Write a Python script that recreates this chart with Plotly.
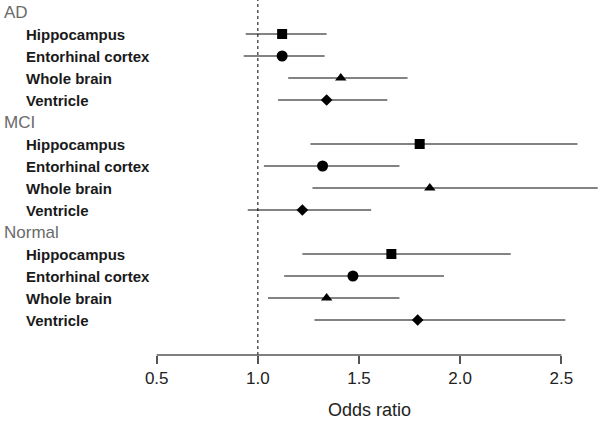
import plotly.graph_objects as go

# odds ratios with 95% CI
groups = ["AD", "MCI", "Normal"]
measures = ["Hippocampus", "Entorhinal cortex", "Whole brain", "Ventricle"]

ad_or = [1.12, 1.12, 1.41, 1.34]
ad_lo = [0.94, 0.93, 1.15, 1.10]
ad_hi = [1.34, 1.33, 1.74, 1.64]

mci_or = [1.80, 1.32, 1.85, 1.22]
mci_lo = [1.26, 1.03, 1.27, 0.95]
mci_hi = [2.58, 1.70, 2.68, 1.56]

normal_or = [1.66, 1.47, 1.34, 1.79]
normal_lo = [1.22, 1.13, 1.05, 1.28]
normal_hi = [2.25, 1.92, 1.70, 2.52]

tick_vals = [0.5, 1.0, 1.5, 2.0, 2.5]
tick_text = ["0.5", "1.0", "1.5", "2.0", "2.5"]

estimates = [ad_or, mci_or, normal_or]
lowers = [ad_lo, mci_lo, normal_lo]
uppers = [ad_hi, mci_hi, normal_hi]

symbols = ["square", "circle", "triangle-up", "diamond"]
sizes = [10, 11, 10, 9]

FONT = "Liberation Sans, Arial, sans-serif"

fig = go.Figure()

annotations = []
for g, name in enumerate(groups):
    base = g * 5
    annotations.append(dict(
        x=0.004, xref="paper", xanchor="left", y=base, yref="y",
        text=name, showarrow=False,
        font=dict(family=FONT, size=17, color="#6a6a6a")))
    for m, meas in enumerate(measures):
        row = base + 1 + m
        est = estimates[g][m]
        lo = lowers[g][m]
        hi = uppers[g][m]
        annotations.append(dict(
            x=0.04, xref="paper", xanchor="left", y=row, yref="y",
            text="<b>" + meas + "</b>", showarrow=False,
            font=dict(family=FONT, size=15, color="#1a1a1a")))
        fig.add_trace(go.Scatter(
            x=[est], y=[row], mode="markers",
            marker=dict(symbol=symbols[m], size=sizes[m], color="black"),
            error_x=dict(type="data", symmetric=False,
                         array=[hi - est], arrayminus=[est - lo],
                         width=0, thickness=1.5, color="#5a5a5a"),
            showlegend=False, hoverinfo="x+y"))

annotations.append(dict(
    x=369 / 601, xref="paper", xanchor="center", y=-0.155, yref="paper",
    yanchor="middle", text="Odds ratio", showarrow=False,
    font=dict(family=FONT, size=18, color="#222")))

shapes = [
    # reference line at OR = 1
    dict(type="line", xref="x", yref="paper", x0=1, x1=1, y0=0, y1=1,
         line=dict(color="black", width=1, dash="dot")),
    # axis line limited to the tick span
    dict(type="line", xref="x", yref="paper", x0=0.5, x1=2.5, y0=0, y1=0,
         line=dict(color="#555", width=1.5)),
]

px_per_unit = (561.3 - 156.7) / 2.0
x_left = 0.5 - 156.7 / px_per_unit
x_right = 2.5 + (601 - 561.3) / px_per_unit
y_top = -12 / 22
y_bottom = (355 - 12) / 22

fig.update_layout(
    width=601, height=421,
    margin=dict(l=0, r=0, t=0, b=66),
    paper_bgcolor="white", plot_bgcolor="white",
    annotations=annotations, shapes=shapes,
    xaxis=dict(range=[x_left, x_right], showgrid=False, zeroline=False,
               showline=False, tickmode="array", tickvals=tick_vals,
               ticktext=tick_text, ticks="outside", ticklen=8,
               tickwidth=1.5, tickcolor="#555",
               tickfont=dict(family=FONT, size=17, color="#222")),
    yaxis=dict(range=[y_bottom, y_top], visible=False, showgrid=False,
               zeroline=False),
)

# drop the default page margin so the figure sits at the window corner
fig.write_html("out.html", config={"displayModeBar": False},
               post_script="document.body.style.margin='0';")
